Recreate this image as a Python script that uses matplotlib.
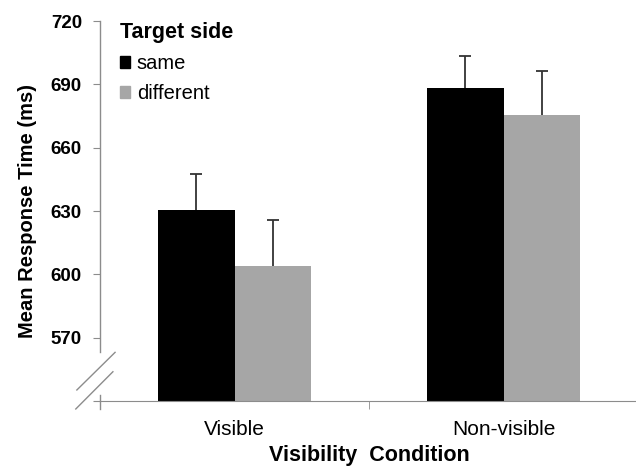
import matplotlib.pyplot as plt
from matplotlib.patches import Patch
import numpy as np

plt.rcParams['font.family'] = ['Liberation Sans', 'DejaVu Sans']

conditions = ['Visible', 'Non-visible']
labellist = ['same', 'different']
colorlist = ['#000000', '#a6a6a6']
means = [[630.5, 688.3],   # same
         [603.8, 675.3]]   # different
errors = [[17.0, 15.3],
          [22.0, 21.0]]
yticks = [540, 570, 600, 630, 660, 690, 720]
yticklabels = ['', '570', '600', '630', '660', '690', '720']

fig = plt.figure(figsize=(6.36, 4.71), dpi=100)
ax = fig.add_axes([100 / 636, 70 / 471, 538 / 636, 380 / 471])

x = np.arange(len(conditions))
width = 0.283
axis_col = '#8c8c8c'
for i in range(len(labellist)):
    ax.bar(x + (i - 0.5) * width, np.array(means[i]) - 540, bottom=540, width=width,
           color=colorlist[i], label=labellist[i], zorder=2)
    eb = ax.errorbar(x + (i - 0.5) * width, means[i], yerr=[[0, 0], errors[i]], fmt='none',
                     ecolor='#333333', elinewidth=1.3, capsize=4.5, capthick=1.3, zorder=3)
    eb[1][0].set_visible(False)  # no lower cap

ax.set_xlim(-0.5, 1.5)
ax.set_ylim(540, 720)
ax.set_yticks(yticks)
ax.set_yticklabels(yticklabels, fontsize=13.5, fontweight='bold')
ax.set_xticks(x)
ax.set_xticklabels(conditions, fontsize=15)
ax.set_xticks([-0.5, 0.5, 1.5], minor=True)
ax.tick_params(axis='x', which='major', length=0, pad=14)
ax.tick_params(axis='x', which='minor', length=6, color=axis_col, direction='out')
ax.tick_params(axis='y', length=5, color=axis_col, pad=8)

for s in ['top', 'right', 'left']:
    ax.spines[s].set_visible(False)
ax.spines['bottom'].set_color(axis_col)

# broken y axis
kw = dict(transform=ax.transAxes, color=axis_col, lw=1, clip_on=False)
ax.plot([0, 0], [0.13, 1], **kw)
ax.plot([0, 0], [-0.02, 0.015], **kw)
ax.plot([-0.043, 0.028], [0.029, 0.128], **kw)
ax.plot([-0.045, 0.024], [-0.021, 0.077], **kw)

ax.set_ylabel('Mean Response Time (ms)', fontsize=14.5, fontweight='bold', labelpad=10)
ax.set_xlabel('Visibility  Condition', fontsize=15.5, fontweight='bold', labelpad=4)

handles = [Patch(color=c, label=l) for c, l in zip(colorlist, labellist)]
leg = ax.legend(handles=handles, title='Target side', loc='upper left',
                bbox_to_anchor=(0.003, 1.045), frameon=False, fontsize=14.5,
                handlelength=0.5, handleheight=0.5, handletextpad=0.35,
                labelspacing=0.55, alignment='left')
leg.get_title().set_fontweight('bold')
leg.get_title().set_fontsize(15.5)

plt.savefig('out.png', dpi=100)
